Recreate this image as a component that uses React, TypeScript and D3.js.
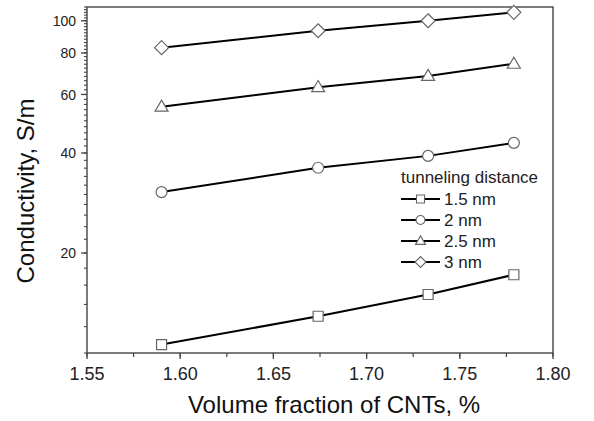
import React, { useRef, useEffect } from 'react';
import * as d3 from 'd3';

const xValues = [1.59, 1.674, 1.733, 1.779];
const seriesNames = ['1.5 nm', '2 nm', '2.5 nm', '3 nm'];
const series15 = [10.6, 12.9, 15.0, 17.2];
const series20 = [30.5, 36.1, 39.2, 42.9];
const series25 = [55.1, 63.1, 68.2, 74.2];
const series30 = [83, 93.3, 100, 106];
const xTicks = [1.55, 1.6, 1.65, 1.7, 1.75, 1.8];
const yTicks = [20, 40, 60, 80, 100];

const W = 594;
const H = 421;
const margin = { top: 7, right: 41, bottom: 68, left: 87 };

// marker shapes (size = side / width in px)
const squareSym = { draw(ctx: any, s: number) { const h = s / 2; ctx.rect(-h, -h, s, s); } };
const circleSym = { draw(ctx: any, s: number) { const r = s / 2; ctx.moveTo(r, 0); ctx.arc(0, 0, r, 0, Math.PI * 2); } };
const triangleSym = {
    draw(ctx: any, s: number) {
        const h = s * 0.85;
        ctx.moveTo(0, -h * 0.6); ctx.lineTo(s / 2, h * 0.4); ctx.lineTo(-s / 2, h * 0.4); ctx.closePath();
    }
};
const diamondSym = {
    draw(ctx: any, s: number) {
        const h = s / 2;
        ctx.moveTo(0, -h); ctx.lineTo(h, 0); ctx.lineTo(0, h); ctx.lineTo(-h, 0); ctx.closePath();
    }
};

const SERIES = [
    { name: seriesNames[0], values: series15, sym: squareSym, size: 10, lsize: 8 },
    { name: seriesNames[1], values: series20, sym: circleSym, size: 11, lsize: 9 },
    { name: seriesNames[2], values: series25, sym: triangleSym, size: 13, lsize: 10 },
    { name: seriesNames[3], values: series30, sym: diamondSym, size: 14, lsize: 11 },
];

const FONT = 'Arial, "Liberation Sans", Helvetica, sans-serif';

export default function App() {
    const svgRef = useRef<SVGSVGElement>(null);

    useEffect(() => {
        const svg = d3.select(svgRef.current);
        svg.selectAll('*').remove();

        const x = d3.scaleLinear().domain([1.55, 1.8]).range([margin.left, W - margin.right]);
        const y = d3.scaleLog().domain([10, 110]).range([H - margin.bottom, margin.top]);
        const frameColor = '#444';

        // frame
        svg.append('rect')
            .attr('x', margin.left).attr('y', margin.top)
            .attr('width', W - margin.left - margin.right)
            .attr('height', H - margin.top - margin.bottom)
            .attr('fill', 'none').attr('stroke', frameColor).attr('stroke-width', 1.4);

        // x axis
        const xMinor = d3.range(1.55, 1.8001, 0.025);
        const gx = svg.append('g').attr('transform', `translate(0,${H - margin.bottom})`);
        gx.selectAll('.mi').data(xMinor).enter().append('line')
            .attr('x1', d => x(d)).attr('x2', d => x(d))
            .attr('y1', 0).attr('y2', 4)
            .attr('stroke', frameColor).attr('stroke-width', 1.2);
        gx.selectAll('.ma').data(xTicks).enter().append('line')
            .attr('x1', d => x(d)).attr('x2', d => x(d))
            .attr('y1', 0).attr('y2', 6)
            .attr('stroke', frameColor).attr('stroke-width', 1.3);
        gx.selectAll('.lab').data(xTicks).enter().append('text')
            .attr('x', d => x(d)).attr('y', 27)
            .attr('text-anchor', 'middle')
            .attr('font-family', FONT).attr('font-size', 18).attr('fill', '#222')
            .text(d => d3.format('.2f')(d));

        // y axis
        const yMinor = d3.range(10, 111, 2);
        const gy = svg.append('g').attr('transform', `translate(${margin.left},0)`);
        gy.selectAll('.mi').data(yMinor).enter().append('line')
            .attr('y1', d => y(d)).attr('y2', d => y(d))
            .attr('x1', 0).attr('x2', -3)
            .attr('stroke', frameColor).attr('stroke-width', 1.1);
        gy.selectAll('.ma').data(yTicks).enter().append('line')
            .attr('y1', d => y(d)).attr('y2', d => y(d))
            .attr('x1', 0).attr('x2', -6)
            .attr('stroke', frameColor).attr('stroke-width', 1.3);
        gy.selectAll('.lab').data(yTicks).enter().append('text')
            .attr('x', -11).attr('y', d => y(d)).attr('dy', '0.36em')
            .attr('text-anchor', 'end')
            .attr('font-family', FONT).attr('font-size', 14).attr('fill', '#222')
            .text(d => String(d));

        // axis titles
        svg.append('text')
            .attr('x', 334).attr('y', 413)
            .attr('text-anchor', 'middle')
            .attr('font-family', FONT).attr('font-size', 24).attr('fill', '#111')
            .text('Volume fraction of CNTs, %');
        svg.append('text')
            .attr('transform', 'translate(34,191) rotate(-90)')
            .attr('text-anchor', 'middle')
            .attr('font-family', FONT).attr('font-size', 24).attr('fill', '#111')
            .text('Conductivity, S/m');

        // series
        const line = d3.line<number>()
            .x((_, i) => x(xValues[i]))
            .y(d => y(d));

        SERIES.forEach(s => {
            svg.append('path')
                .attr('d', line(s.values))
                .attr('fill', 'none').attr('stroke', '#000').attr('stroke-width', 2);
            svg.selectAll(null).data(s.values).enter().append('path')
                .attr('transform', (d, i) => `translate(${x(xValues[i])},${y(d)})`)
                .attr('d', d3.symbol(s.sym as any, s.size)())
                .attr('fill', '#fff').attr('stroke', '#666').attr('stroke-width', 1.2);
        });

        // legend
        const lg = svg.append('g').attr('transform', 'translate(401,0)');
        lg.append('text')
            .attr('x', 0).attr('y', 183)
            .attr('font-family', FONT).attr('font-size', 17).attr('fill', '#222')
            .text('tunneling distance');
        SERIES.forEach((s, i) => {
            const cy = 199 + i * 21;
            lg.append('line')
                .attr('x1', 0).attr('x2', 39).attr('y1', cy).attr('y2', cy)
                .attr('stroke', '#000').attr('stroke-width', 2);
            lg.append('path')
                .attr('transform', `translate(19.5,${cy})`)
                .attr('d', d3.symbol(s.sym as any, s.lsize)())
                .attr('fill', '#fff').attr('stroke', '#666').attr('stroke-width', 1.1);
            lg.append('text')
                .attr('x', 43).attr('y', cy).attr('dy', '0.36em')
                .attr('font-family', FONT).attr('font-size', 17).attr('fill', '#222')
                .text(s.name);
        });
    }, []);

    return (
        <svg
            ref={svgRef}
            width={W}
            height={H}
            style={{ position: 'absolute', left: 0, top: 0, background: '#fff' }}
        />
    );
}
